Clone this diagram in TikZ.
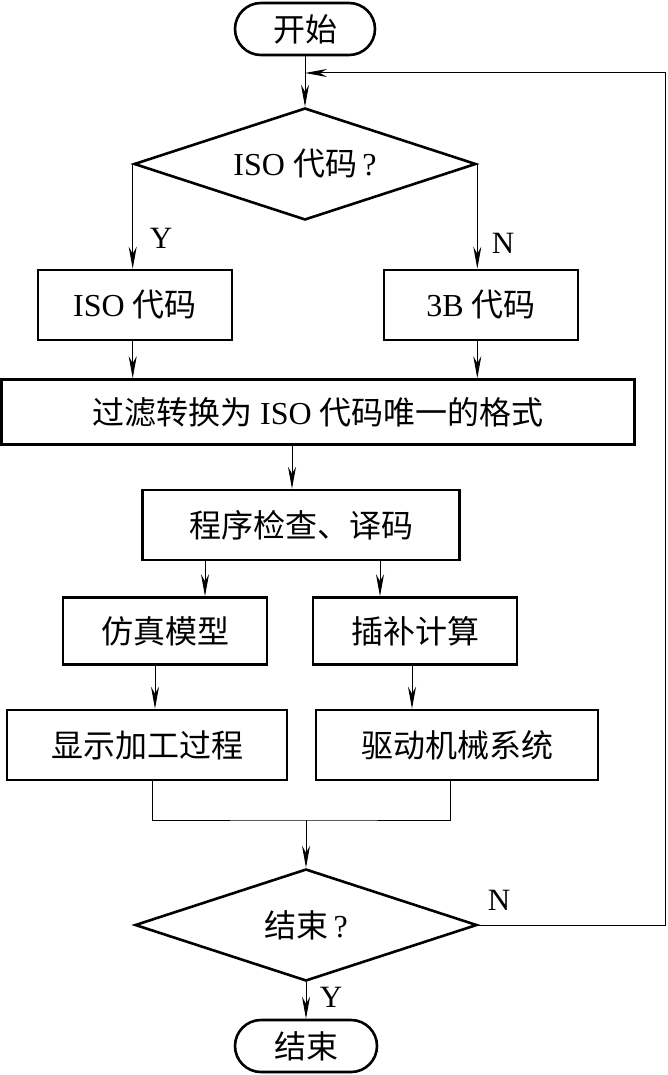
\documentclass[tikz,border=0pt]{standalone}
\usepackage{fontspec}
\setmainfont{Liberation Serif}
\newfontfamily\cjk{Noto Sans CJK SC}
\usetikzlibrary{shapes.geometric,arrows.meta}
\newcommand\flowfont{\fontsize{32}{36}\selectfont}
\begin{document}
\begin{tikzpicture}[x=1pt,y=-1pt,>={Stealth[length=22pt,width=8pt,inset=7pt]},
		box/.style={draw,line width=2.6pt,inner sep=0pt,font=\flowfont},
		term/.style={box,rounded corners=26pt,minimum width=140pt,minimum height=52pt},
		decide/.style={box,diamond,aspect=3.05,minimum width=342pt,minimum height=112pt},
		conn/.style={line width=1pt},
		yn/.style={font=\fontsize{31}{34}\selectfont}]
	\useasboundingbox (0,0) rectangle (668,1075);
	% nodes
	\node[term] (start) at (305,29) {\cjk 开始};
	\node[decide] (iso?) at (305,164) {ISO {\cjk 代码}\,?};
	\node[box,minimum width=194pt,minimum height=70pt] (iso) at (135,305) {ISO {\cjk 代码}};
	\node[box,minimum width=194pt,minimum height=70pt] (b3) at (481,305) {3B {\cjk 代码}};
	\node[box,minimum width=633pt,minimum height=65pt] (filt) at (318,412) {{\cjk 过滤转换为} ISO {\cjk 代码唯一的格式}};
	\node[box,minimum width=317pt,minimum height=70pt] (chk) at (301,525) {\cjk 程序检查、译码};
	\node[box,minimum width=204pt,minimum height=67pt] (sim) at (165,631) {\cjk 仿真模型};
	\node[box,minimum width=204pt,minimum height=67pt] (interp) at (415,631) {\cjk 插补计算};
	\node[box,minimum width=280pt,minimum height=70pt] (disp) at (147,745) {\cjk 显示加工过程};
	\node[box,minimum width=282pt,minimum height=70pt] (drive) at (457,745) {\cjk 驱动机械系统};
	\node[decide] (end?) at (306,925) {{\cjk 结束}\,?};
	\node[term,minimum width=142pt] (end) at (306,1046) {\cjk 结束};
	\coordinate (merge) at (306,820);
	\coordinate (loopR) at (665,73);
	\coordinate (loopL) at (305,73);
	% connectors
	\draw[conn,->] (start) -- (iso?);
	\draw[conn,->] (iso?.west) -- (iso?.west |- iso.north);
	\draw[conn,->] (iso?.east) -- (iso?.east |- b3.north);
	\draw[conn,->] (iso?.west |- iso.south) -- (iso?.west |- filt.north);
	\draw[conn,->] (iso?.east |- b3.south) -- (iso?.east |- filt.north);
	\draw[conn,->] ([xshift=-26pt]filt.south) -- ([xshift=-26pt]filt.south |- chk.north);
	\draw[conn,->] ([xshift=-96pt]chk.south) -- ([xshift=-96pt]chk.south |- sim.north);
	\draw[conn,->] ([xshift=79pt]chk.south) -- ([xshift=79pt]chk.south |- interp.north);
	\draw[conn,->] ([xshift=-10pt]sim.south) -- ([xshift=-10pt]sim.south |- disp.north);
	\draw[conn,->] ([xshift=-3pt]interp.south) -- ([xshift=-3pt]interp.south |- drive.north);
	\draw[conn] ([xshift=5pt]disp.south) |- (merge) -| ([xshift=-7pt]drive.south);
	\draw[conn,->] (merge) -- (end?);
	\draw[conn,->] (end?) -- (end);
	\draw[conn,->] (end?.east) -| (loopR) -- (loopL);
	% labels
	\node[yn] at (161,238) {Y};
	\node[yn] at (503,243) {N};
	\node[yn] at (499,900) {N};
	\node[yn] at (331,997) {Y};
\end{tikzpicture}
\end{document}
